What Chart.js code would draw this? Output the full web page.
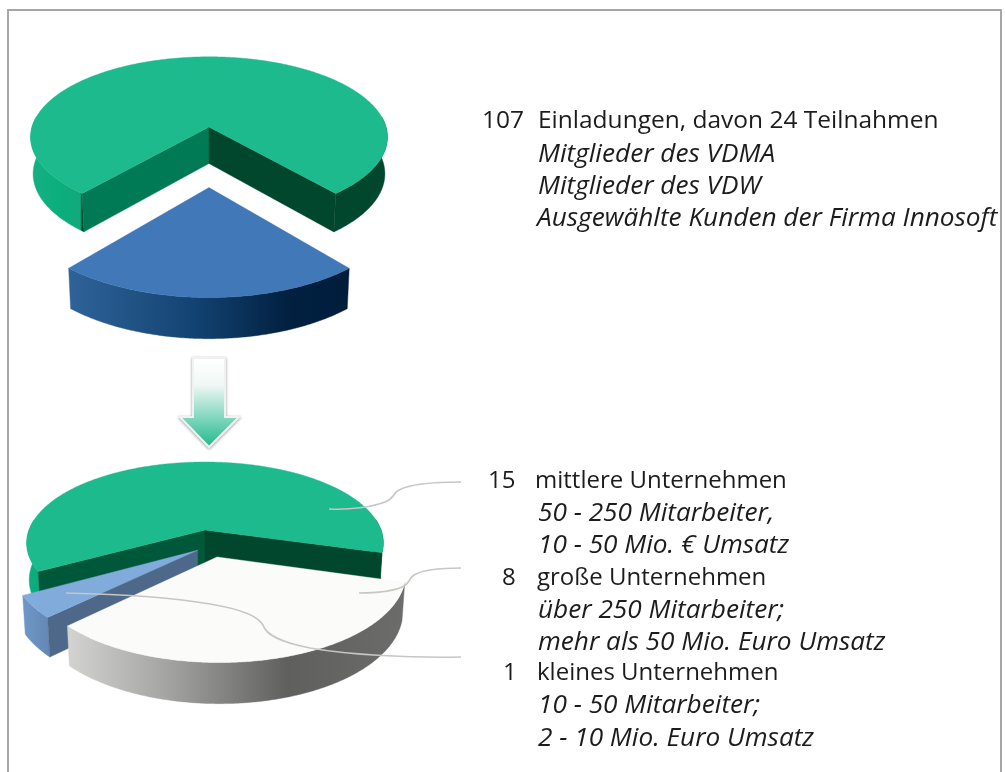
<!DOCTYPE html>
<html lang="de"><head><meta charset="utf-8">
<script src="https://cdn.jsdelivr.net/npm/chart.js@4"></script>
<style>
html,body{margin:0;padding:0;background:#fff;width:1005px;height:772px;overflow:hidden}
#frame{position:absolute;left:7px;top:9px;width:995px;height:800px;border:2px solid #a6a6a6;box-sizing:border-box}
canvas{position:absolute;left:0;top:0}
svg{position:absolute;left:0;top:0}
.t{position:absolute;white-space:nowrap;font-family:"Open Sans","Noto Sans",sans-serif;font-size:24px;line-height:32px;color:#1c1c1c}
.h{font-size:24.5px}
.i{font-style:italic;font-size:26.2px}
</style></head><body>
<div id="frame"></div>
<canvas id="c1" width="1005" height="772" style="width:1005px;height:772px"></canvas>
<canvas id="c2" width="1005" height="772" style="width:1005px;height:772px"></canvas>
<svg width="1005" height="772" viewBox="0 0 1005 772">
<defs>
<linearGradient id="ag" x1="0" y1="0" x2="0" y2="1"><stop offset="0" stop-color="#ffffff"/><stop offset=".3" stop-color="#f0f8f5"/><stop offset="1" stop-color="#1fb98d"/></linearGradient>
<filter id="sh" x="-30%" y="-30%" width="160%" height="160%"><feDropShadow dx="0" dy="1" stdDeviation="1.5" flood-color="#666" flood-opacity=".7"/></filter>
</defs>
<path d="M193 358H225V417H239L209 447L180 417H193Z" fill="url(#ag)" stroke="#eef2f0" stroke-width="2" filter="url(#sh)"/>
<g fill="none" stroke="#c6c6c4" stroke-width="1.6">
<path d="M329 509C350 510 372 507 385 502C395 498 392 494 399 490C410 484 435 482 461 482"/>
<path d="M359 593C375 593 393 591 402 587C411 583 408 579 414 575C424 569 445 568 461 568"/>
<path d="M66 593C110 594 170 597 210 604C240 609 258 616 263 625C266 635 280 642 310 648C350 655 410 658 461 657"/>
</g>
</svg>
<div id="texts"></div>
<script>
const inviteCategories = ["Einladungen ohne Teilnahme", "Teilnahmen"];
const inviteValues = [83, 24];
const companyCategories = ["mittlere Unternehmen", "große Unternehmen", "kleines Unternehmen"];
const companyValues = [15, 8, 1];

const textLines = [
  ["107", 482, 103, "h"], ["Einladungen, davon 24 Teilnahmen", 538, 103, "h"],
  ["Mitglieder des VDMA", 538, 136, "i"], ["Mitglieder des VDW", 538, 168, "i"],
  ["Ausgewählte Kunden der Firma Innosoft", 537, 200, "i"],
  ["15", 488, 463, ""], ["mittlere Unternehmen", 535, 463, ""],
  ["50 - 250 Mitarbeiter,", 538, 495, "i"], ["10 - 50 Mio. € Umsatz", 538, 527, "i"],
  ["8", 502, 560, ""], ["große Unternehmen", 537, 560, ""],
  ["über 250 Mitarbeiter;", 538, 592, "i"], ["mehr als 50 Mio. Euro Umsatz", 538, 624, "i"],
  ["1", 503, 655, ""], ["kleines Unternehmen", 537, 655, ""],
  ["10 - 50 Mitarbeiter;", 538, 687, "i"], ["2 - 10 Mio. Euro Umsatz", 538, 720, "i"]
];
const box = document.getElementById('texts');
textLines.forEach(([s, x, y, cls]) => {
  const d = document.createElement('div');
  d.className = 't ' + cls;
  d.style.left = x + 'px'; d.style.top = y + 'px'; d.textContent = s;
  box.appendChild(d);
});

const DEPTH = 36.5, NARROW = 0.014;
function persp(view, sliceStyles, paintOrder) {
  const { P, SX, SY } = view;
  return {
    id: 'persp',
    beforeDatasetDraw(chart) {
      const ctx = chart.ctx, arcs = chart.getDatasetMeta(0).data;
      const first = arcs[0].getProps(['x', 'y', 'outerRadius']);
      const cx = first.x, cy = first.y, R = first.outerRadius;
      const proj = (u, v, z) => {
        const w = 1 - P * v;
        const x = R * SX * u / w, y = R * SY * v / w;
        const k = z ? 1 - NARROW : 1;
        return [cx + x * k, cy + y + (z ? DEPTH / Math.sqrt(w) : 0)];
      };
      const poly = (pts, fill) => {
        ctx.beginPath();
        pts.forEach((p, i) => i ? ctx.lineTo(p[0], p[1]) : ctx.moveTo(p[0], p[1]));
        ctx.closePath(); ctx.fillStyle = fill; ctx.fill();
        ctx.strokeStyle = fill; ctx.lineWidth = 0.4; ctx.stroke();
      };
      paintOrder.forEach(i => {
        const el = arcs[i], st = sliceStyles[i];
        const { startAngle: a0, endAngle: a1 } = el.getProps(['startAngle', 'endAngle']);
        const [ou, ov] = st.shift;
        const rim = z => {
          const out = [], n = Math.ceil((a1 - a0) / 0.01);
          for (let k = 0; k <= n; k++) {
            const a = a0 + (a1 - a0) * k / n;
            out.push(proj(ou + Math.cos(a), ov + Math.sin(a), z));
          }
          return out;
        };
        const apex = z => proj(ou, ov, z);
        const top = rim(0), bot = rim(1);
        const g = ctx.createLinearGradient(st.wallFrom, 0, st.wallTo, 0);
        st.wall.forEach(([o, c]) => g.addColorStop(o, c));
        let seg = [];
        for (let k = 0; k < top.length; k++) {
          const a = a0 + (a1 - a0) * k / (top.length - 1);
          if (Math.sin(a) > -0.14) seg.push(k);
          else if (seg.length) { wall(seg); seg = []; }
        }
        if (seg.length) wall(seg);
        function wall(ix) {
          poly(ix.map(k => top[k]).concat(ix.slice().reverse().map(k => bot[k])), g);
        }
        if (Math.cos(a0) < 0) poly([apex(0), top[0], bot[0], apex(1)], st.faceStart);
        if (Math.cos(a1) > 0) poly([apex(0), top[top.length - 1], bot[bot.length - 1], apex(1)], st.faceEnd);
        poly([apex(0)].concat(top), el.options.backgroundColor);
      });
      return false;
    }
  };
}

const baseOptions = (rotation, padding) => ({
  responsive: false, animation: false, rotation,
  layout: { padding },
  plugins: { legend: { display: false }, tooltip: { enabled: false } },
  events: []
});

new Chart(document.getElementById('c1'), {
  type: 'pie',
  data: { labels: inviteCategories, datasets: [{ data: inviteValues, borderWidth: 0, backgroundColor: ['#1dba8e', '#4078b8'] }] },
  options: baseOptions(220.4, { left: 109, top: 27, right: 696, bottom: 545 }),
  plugins: [persp({ P: 0.125, SX: 1.77, SY: 0.79 }, [
    { shift: [0, 0], wallFrom: 30, wallTo: 389, wall: [[0, '#16b084'], [.08, '#0bae7d'], [.14, '#12a97a'], [.145, '#00472e'], [1, '#00472e']], faceStart: '#007a55', faceEnd: '#00472e' },
    { shift: [0, 0.70], wallFrom: 67, wallTo: 348, wall: [[0, '#2f6399'], [.45, '#134372'], [.8, '#011f3f'], [1, '#001d3c']], faceStart: '#123', faceEnd: '#123' }
  ], [0, 1])]
});

new Chart(document.getElementById('c2'), {
  type: 'pie',
  data: { labels: companyCategories, datasets: [{ data: companyValues, borderWidth: 0, backgroundColor: ['#1dba8e', '#fbfbf9', '#80abdb'] }] },
  options: baseOptions(241, { left: 105, top: 430, right: 700, bottom: 142 }),
  plugins: [persp({ P: 0.16, SX: 1.76, SY: 0.789 }, [
    { shift: [0, 0], wallFrom: 27, wallTo: 384, wall: [[0, '#0dad7e'], [.05, '#0aab7b'], [.06, '#00472e'], [1, '#00472e']], faceStart: '#00583a', faceEnd: '#00472e' },
    { shift: [0.065, 0.324], wallFrom: 70, wallTo: 405, wall: [[0, '#d2d2d0'], [.3, '#a2a2a0'], [.65, '#5f5f5d'], [1, '#6c6c6a']], faceStart: '#888', faceEnd: '#888' },
    { shift: [-0.04, 0.247], wallFrom: 23, wallTo: 53, wall: [[0, '#7097c6'], [1, '#6185b3']], faceStart: '#4d6889', faceEnd: '#4d6889' }
  ], [0, 2, 1])]
});
</script>
</body></html>
